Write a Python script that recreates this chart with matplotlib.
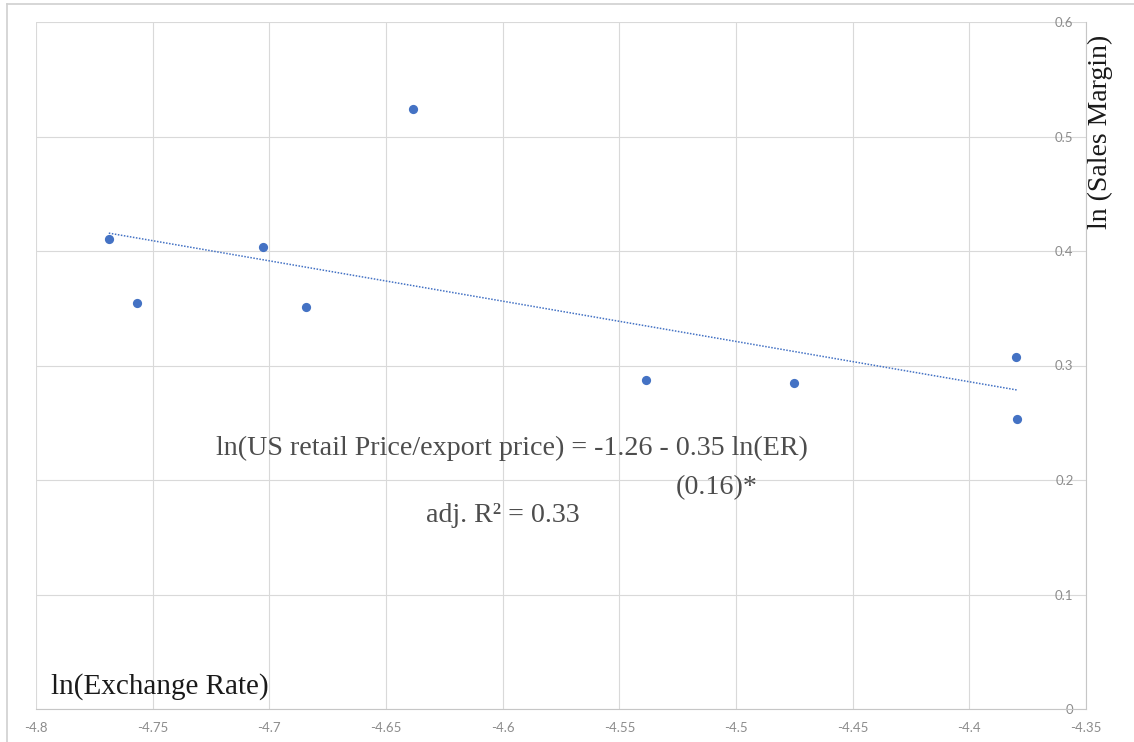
import numpy as np
import matplotlib.pyplot as plt
from matplotlib.lines import Line2D

# log exchange rate vs log sales margin
ln_er = [-4.7688, -4.7566, -4.7027, -4.6843, -4.6384, -4.5386, -4.4750, -4.3799, -4.3795]
ln_margin = [0.4107, 0.3543, 0.4032, 0.3511, 0.5240, 0.2873, 0.2850, 0.3077, 0.2533]

# regression: ln(margin) = a + b ln(ER)
intercept = -1.263
slope = -0.352

x_ticks = [-4.8, -4.75, -4.7, -4.65, -4.6, -4.55, -4.5, -4.45, -4.4, -4.35]
x_tick_labels = ["-4.8", "-4.75", "-4.7", "-4.65", "-4.6", "-4.55", "-4.5", "-4.45", "-4.4", "-4.35"]
y_ticks = [0, 0.1, 0.2, 0.3, 0.4, 0.5, 0.6]
y_tick_labels = ["0", "0.1", "0.2", "0.3", "0.4", "0.5", "0.6"]

W, H = 1134, 742
fig = plt.figure(figsize=(W / 100, H / 100), dpi=100)
fig.patch.set_facecolor("white")

# axes box in pixels: x from 36 to 1086, y from 22 to 709
ax = fig.add_axes([36 / W, 1 - 709 / H, (1086 - 36) / W, (709 - 22) / H])

blue = "#4472C4"
grid_c = "#d9d9d9"
tick_c = "#8c8c8c"

ax.scatter(ln_er, ln_margin, s=44, color=blue, zorder=3, linewidths=0)

xs = np.array([min(ln_er), max(ln_er)])
ax.plot(xs, intercept + slope * xs, color=blue, lw=1.1,
        linestyle=(0, (1, 1)), zorder=2)

ax.set_xlim(-4.8, -4.35)
ax.set_ylim(0, 0.6)
ax.set_xticks(x_ticks)
ax.set_xticklabels(x_tick_labels)
ax.set_yticks(y_ticks)
ax.set_yticklabels(y_tick_labels)

ax.grid(True, color=grid_c, lw=0.8)
ax.set_axisbelow(True)

for side in ["left", "top"]:
    ax.spines[side].set_visible(False)
for side in ["bottom", "right"]:
    ax.spines[side].set_color("#c6c6c6")
    ax.spines[side].set_linewidth(0.8)

ax.tick_params(axis="x", length=0, pad=9, labelsize=9.5, labelcolor=tick_c)
ax.tick_params(axis="y", left=False, right=False, labelleft=False, labelright=True,
               length=0, pad=-9, labelsize=9.5, labelcolor=tick_c)
for lab in ax.get_xticklabels() + ax.get_yticklabels():
    lab.set_fontfamily("Lato")
for lab in ax.get_yticklabels():
    lab.set_ha("right")

serif = "Liberation Serif"

# axis titles placed inside the frame
fig.text(51 / W, 1 - 694 / H, "ln(Exchange Rate)", family=serif, fontsize=21,
         color="#1a1a1a", ha="left", va="baseline")
fig.text(1100 / W, 1 - 132 / H, "ln (Sales Margin)", family=serif, fontsize=20,
         color="#1a1a1a", ha="center", va="center", rotation=90)

# regression annotation
eq_c = "#4d4d4d"
fig.text(216 / W, 1 - 455 / H, "ln(US retail Price/export price) = -1.26 - 0.35 ln(ER)",
         family=serif, fontsize=20.2, color=eq_c, ha="left", va="baseline")
fig.text(676 / W, 1 - 494 / H, "(0.16)*", family=serif, fontsize=20.2, color=eq_c,
         ha="left", va="baseline")
fig.text(426 / W, 1 - 522 / H, "adj. R\u00b2 = 0.33", family=serif, fontsize=20.2,
         color=eq_c, ha="left", va="baseline")

# outer chart frame (top and left edges)
frame_c = "#d0d0d0"
fig.add_artist(Line2D([7 / W, 1], [1 - 4 / H, 1 - 4 / H], color=frame_c, lw=1.2))
fig.add_artist(Line2D([7 / W, 7 / W], [0, 1 - 4 / H], color=frame_c, lw=1.2))

fig.savefig("out.png", dpi=100)
